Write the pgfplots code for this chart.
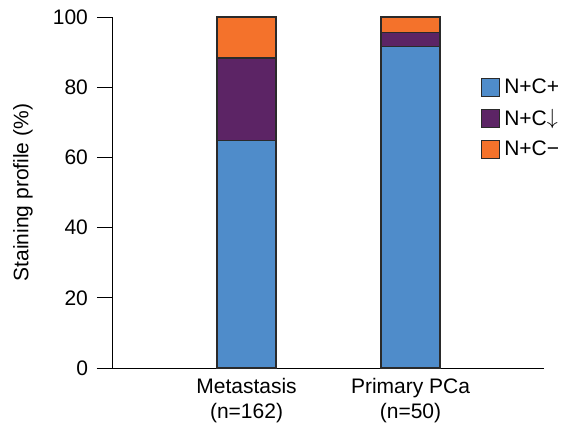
\documentclass[border=0pt]{standalone}
\usepackage{pgfplots}
\pgfplotsset{compat=1.18}
\usepackage{fontspec}
\setmainfont{Liberation Sans}
\definecolor{cblue}{HTML}{4F8CCA}
\definecolor{cpurple}{HTML}{5C2465}
\definecolor{corange}{HTML}{F4722B}
\definecolor{edge}{HTML}{2A2A2A}
\begin{document}
\begin{tikzpicture}
\begin{axis}[
  name=ax,
  scale only axis,
  width=223.5pt, height=175.5pt,
  xmin=0.088, xmax=2.814,
  ymin=0, ymax=100,
  ybar stacked,
  bar width=0.36,
  axis x line=bottom, axis y line=left,
  axis line style={-, line width=0.5pt},
  y axis line style={draw=none},
  xtick={1,2},
  xticklabels={{Metastasis\\(n=162)},{Primary PCa\\(n=50)}},
  xticklabel style={align=center, font=\fontsize{10.5}{12.5}\selectfont, yshift=-1.5pt},
  xtick style={draw=none},
  ytick={0,20,...,100},
  tick align=inside,
  major tick length=7.5pt,
  ytick style={line width=0.5pt, black},
  yticklabel style={font=\fontsize{10.5}{12.5}\selectfont, xshift=-1pt},
  /pgf/number format/assume math mode=true,
  ylabel={Staining profile (\%)},
  ylabel style={font=\fontsize{10.5}{12.5}\selectfont, at={(axis description cs:-0.1655,0.5)}, anchor=center},
  legend style={at={(0.845,0.848)}, anchor=north west, draw=none, fill=none,
    font=\fontsize{10.5}{12.5}\selectfont, row sep=2.2pt,
    /tikz/every even column/.append style={column sep=2pt}},
  legend cell align=left,
  legend image code/.code={\draw[#1] (0pt,-4.5pt) rectangle (9pt,4.5pt);},
  clip=false,
]
\addplot[fill=cblue, draw=edge, line width=0.6pt] coordinates {(1,64.8) (2,91.5)};
\addplot[fill=cpurple, draw=edge, line width=0.6pt] coordinates {(1,23.5) (2,4.0)};
\addplot[fill=corange, draw=edge, line width=0.6pt] coordinates {(1,11.7) (2,4.5)};
\legend{N+C+, N+C\raisebox{0.6pt}{$\downarrow$}, N+C−}
\draw[line width=0.5pt] (axis cs:0.18,0) -- (axis cs:0.18,100);
\end{axis}
\pgfresetboundingbox
\path ([shift={(-48.5pt,-33pt)}]ax.south west) rectangle ([shift={(232.5pt,184pt)}]ax.south west);
\end{tikzpicture}
\end{document}
